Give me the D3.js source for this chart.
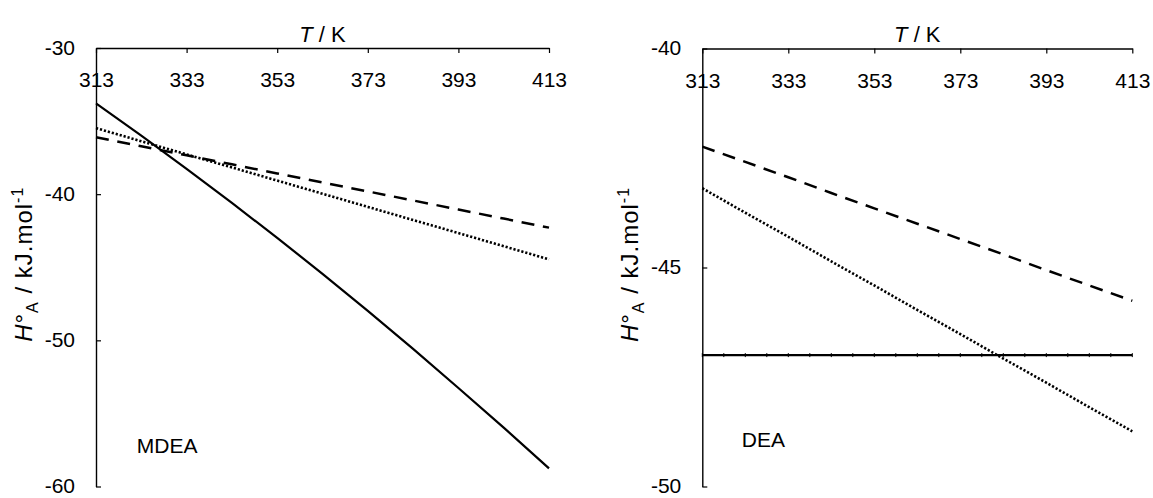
<!DOCTYPE html>
<html>
<head>
<meta charset="utf-8">
<script src="https://cdn.jsdelivr.net/npm/d3@7"></script>
<style>
  html, body { margin: 0; padding: 0; background: #fff; }
  svg { display: block; }
  text { font-family: "Liberation Sans", Arial, sans-serif; fill: #000; }
</style>
</head>
<body>
<svg id="chart" width="1153" height="498"></svg>
<script>
// ---------- data ----------
const temps = [313, 323, 333, 343, 353, 363, 373, 383, 393, 403, 413];
const temps5 = [313, 318, 323, 328, 333, 338, 343, 348, 353, 358, 363, 368, 373, 378, 383, 388, 393, 398, 403, 408, 413];
const xTicks = [313, 333, 353, 373, 393, 413];

// MDEA panel
const mdeaSolid  = [-33.79, -35.99, -38.27, -40.60, -42.99, -45.45, -47.99, -50.59, -53.26, -55.97, -58.76];
const mdeaDashed = [-36.10, -36.72, -37.34, -37.96, -38.58, -39.20, -39.81, -40.43, -41.05, -41.67, -42.29];
const mdeaDotted = [-35.48, -36.38, -37.28, -38.17, -39.07, -39.97, -40.87, -41.77, -42.66, -43.56, -44.46];
const mdeaYTicks = [-30, -40, -50, -60];

// DEA panel
const deaSolid  = [-47, -47, -47, -47, -47, -47, -47, -47, -47, -47, -47, -47, -47, -47, -47, -47, -47, -47, -47, -47, -47];
const deaDashed = [-42.24, -42.59, -42.94, -43.30, -43.65, -44.00, -44.35, -44.70, -45.06, -45.41, -45.76];
const deaDotted = [-43.19, -43.75, -44.30, -44.86, -45.41, -45.97, -46.52, -47.08, -47.63, -48.19, -48.74];
const deaYTicks = [-40, -45, -50];

const panels = [
  { name: "MDEA", left: 96, right: 549, top: 48, bottom: 486.5, yDomain: [-60, -30], yTicks: mdeaYTicks,
    series: [
      { x: temps, y: mdeaSolid, style: "solid" },
      { x: temps, y: mdeaDashed, style: "dashed" },
      { x: temps, y: mdeaDotted, style: "dotted" }
    ], label: { T: 322, H: -57.7 }, ticksOnSolid: false },
  { name: "DEA", left: 702.3, right: 1132.3, top: 48.5, bottom: 486.5, yDomain: [-50, -40], yTicks: deaYTicks,
    series: [
      { x: temps5, y: deaSolid, style: "solid" },
      { x: temps, y: deaDashed, style: "dashed" },
      { x: temps, y: deaDotted, style: "dotted" }
    ], label: { T: 322.2, H: -49.1 }, ticksOnSolid: true }
];

const styles = {
  solid:  { w: 2.2, dash: null },
  dashed: { w: 2.5, dash: "13,8.7" },
  dotted: { w: 2.6, dash: "2.2,1.9" }
};

const fmt = d => String(d);
const svg = d3.select("#chart");

panels.forEach(p => {
  const x = d3.scaleLinear().domain([313, 413]).range([p.left, p.right]);
  const y = d3.scaleLinear().domain(p.yDomain).range([p.bottom, p.top]);
  const g = svg.append("g");

  // series
  p.series.forEach(s => {
    const pts = s.x.map((t, i) => [t, s.y[i]]);
    const line = d3.line().x(d => x(d[0])).y(d => y(d[1]));
    const st = styles[s.style];
    g.append("path")
      .datum(pts)
      .attr("d", line)
      .attr("fill", "none")
      .attr("stroke", "#000")
      .attr("stroke-width", st.w)
      .attr("stroke-dasharray", st.dash)
      .attr("stroke-linecap", "butt")
      .attr("stroke-linejoin", "round");
    if (s.style === "solid" && p.ticksOnSolid) {
      g.selectAll(null).data(pts).enter().append("line")
        .attr("x1", d => x(d[0])).attr("x2", d => x(d[0]))
        .attr("y1", d => y(d[1]) - 2).attr("y2", d => y(d[1]) + 2)
        .attr("stroke", "#000").attr("stroke-width", 1);
    }
  });

  // top x axis
  const xAxis = d3.axisTop(x).tickValues(xTicks).tickFormat(fmt)
    .tickSizeInner(-5).tickSizeOuter(0);
  const gx = g.append("g").attr("transform", `translate(0,${p.top})`).call(xAxis);
  gx.selectAll("text").attr("y", 39).attr("dy", 0)
    .style("font-size", "21px").style("font-family", "'Liberation Sans', Arial, sans-serif").attr("fill", "#000");
  gx.select(".domain").attr("stroke", "#000").attr("stroke-width", 1.4);
  gx.selectAll(".tick line").attr("stroke", "#000").attr("stroke-width", 1.2);

  // left y axis
  const yAxis = d3.axisLeft(y).tickValues(p.yTicks).tickFormat(fmt)
    .tickSizeInner(-5).tickSizeOuter(0).tickPadding(21);
  const gy = g.append("g").attr("transform", `translate(${p.left},0)`).call(yAxis);
  gy.selectAll("text").attr("dy", "0.3em")
    .style("font-size", "21px").style("font-family", "'Liberation Sans', Arial, sans-serif").attr("fill", "#000");
  gy.select(".domain").attr("stroke", "#000").attr("stroke-width", 1.4);
  gy.selectAll(".tick line").attr("stroke", "#000").attr("stroke-width", 1.2);

  // x title
  const xt = g.append("text")
    .attr("x", (p.left + p.right) / 2).attr("y", 42)
    .attr("text-anchor", "middle").style("font-size", "22px");
  xt.append("tspan").attr("font-style", "italic").text("T");
  xt.append("tspan").text(" / K");

  // y title
  const cy = (p.top + p.bottom) / 2 - 3;
  const tx = p.left - 64.5;
  const yt = g.append("text")
    .attr("transform", `translate(${tx},${cy}) rotate(-90)`)
    .attr("text-anchor", "middle").style("font-size", "24px")
    .style("letter-spacing", "1px");
  yt.append("tspan").attr("font-style", "italic").text("H");
  yt.append("tspan").text("°");
  yt.append("tspan").attr("dy", 6).style("font-size", "16px").text("A");
  yt.append("tspan").attr("dy", -6).text(" / kJ.mol");
  yt.append("tspan").attr("dy", -9).style("font-size", "16px").text("-1");

  // panel label
  g.append("text")
    .attr("x", x(p.label.T))
    .attr("y", y(p.label.H))
    .style("font-size", "21px")
    .text(p.name);
});
</script>
</body>
</html>
